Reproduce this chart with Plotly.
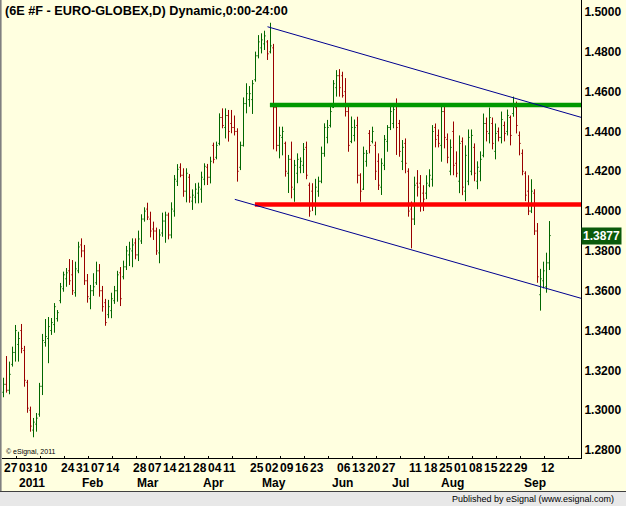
import pandas as pd
import plotly.graph_objects as go

# ---------------- data ----------------
holidays = ["2011-01-17", "2011-02-21", "2011-04-22", "2011-05-30", "2011-07-04", "2011-09-05"]
days = [d for d in pd.bdate_range("2010-12-27", "2011-09-15") if d.strftime("%Y-%m-%d") not in holidays]

highs = [
    1.3163, 1.3272, 1.3244, 1.3319, 1.3428, 1.3394, 1.3433, 1.3323, 1.3152, 1.3018,
    1.2961, 1.2986, 1.3137, 1.3383, 1.3458, 1.3468, 1.3463, 1.3538, 1.3503, 1.3639,
    1.3696, 1.3714, 1.3759, 1.3754, 1.3746, 1.3846, 1.3863, 1.3830, 1.3684, 1.3629,
    1.3688, 1.3746, 1.3734, 1.3624, 1.3559, 1.3554, 1.3590, 1.3624, 1.3700, 1.3719,
    1.3751, 1.3825, 1.3846, 1.3863, 1.3863, 1.3902, 1.3984, 1.4019, 1.4042, 1.3997,
    1.3947, 1.3917, 1.3909, 1.3992, 1.3997, 1.3992, 1.4044, 1.4181, 1.4236, 1.4240,
    1.4215, 1.4215, 1.4186, 1.4109, 1.4140, 1.4143, 1.4198, 1.4240, 1.4237, 1.4273,
    1.4344, 1.4349, 1.4491, 1.4516, 1.4516, 1.4508, 1.4508, 1.4480, 1.4416, 1.4349,
    1.4571, 1.4642, 1.4628, 1.4658, 1.4801, 1.4884, 1.4893, 1.4906, 1.4859, 1.4946,
    1.4840, 1.4540, 1.4424, 1.4424, 1.4349, 1.4282, 1.4349, 1.4257, 1.4290, 1.4270,
    1.4342, 1.4349, 1.4143, 1.4140, 1.4162, 1.4173, 1.4324, 1.4441, 1.4458, 1.4525,
    1.4658, 1.4708, 1.4713, 1.4700, 1.4668, 1.4533, 1.4475, 1.4460, 1.4474, 1.4190,
    1.4324, 1.4307, 1.4407, 1.4424, 1.4349, 1.4290, 1.4265, 1.4382, 1.4432, 1.4533,
    1.4541, 1.4566, 1.4458, 1.4357, 1.4365, 1.4215, 1.4048, 1.4173, 1.4206, 1.4181,
    1.4130, 1.4180, 1.4210, 1.4432, 1.4440, 1.4410, 1.4528, 1.4533, 1.4390, 1.4360,
    1.4450, 1.4300, 1.4380, 1.4370, 1.4330, 1.4410, 1.4410, 1.4340, 1.4250, 1.4300,
    1.4490, 1.4470, 1.4520, 1.4470, 1.4440, 1.4420, 1.4500, 1.4450, 1.4510, 1.4480,
    1.4575, 1.4550, 1.4400, 1.4310, 1.4200, 1.4180, 1.4160, 1.4110, 1.3940, 1.3710,
    1.3746, 1.3791, 1.3950]

lows = [
    1.3065, 1.3088, 1.3080, 1.3219, 1.3244, 1.3244, 1.3286, 1.3118, 1.2987, 1.2892,
    1.2864, 1.2892, 1.2967, 1.3076, 1.3319, 1.3236, 1.3378, 1.3389, 1.3445, 1.3537,
    1.3595, 1.3620, 1.3629, 1.3579, 1.3570, 1.3688, 1.3768, 1.3629, 1.3540, 1.3507,
    1.3574, 1.3629, 1.3570, 1.3495, 1.3424, 1.3462, 1.3462, 1.3534, 1.3545, 1.3523,
    1.3657, 1.3704, 1.3724, 1.3718, 1.3758, 1.3749, 1.3835, 1.3947, 1.3955, 1.3868,
    1.3855, 1.3780, 1.3738, 1.3871, 1.3841, 1.3858, 1.3863, 1.3972, 1.4126, 1.4170,
    1.4072, 1.4044, 1.4042, 1.4006, 1.4039, 1.4039, 1.4042, 1.4130, 1.4131, 1.4139,
    1.4240, 1.4260, 1.4330, 1.4416, 1.4365, 1.4349, 1.4391, 1.4380, 1.4148, 1.4206,
    1.4324, 1.4491, 1.4524, 1.4488, 1.4650, 1.4767, 1.4792, 1.4809, 1.4759, 1.4792,
    1.4310, 1.4300, 1.4265, 1.4280, 1.4173, 1.4091, 1.4064, 1.4047, 1.4140, 1.4190,
    1.4191, 1.4160, 1.3972, 1.4000, 1.3979, 1.4072, 1.4140, 1.4273, 1.4340, 1.4420,
    1.4518, 1.4575, 1.4575, 1.4570, 1.4475, 1.4298, 1.4341, 1.4350, 1.4139, 1.4047,
    1.4106, 1.4223, 1.4290, 1.4340, 1.4156, 1.4106, 1.4081, 1.4206, 1.4298, 1.4407,
    1.4416, 1.4282, 1.4273, 1.4206, 1.4190, 1.3972, 1.3813, 1.3930, 1.4073, 1.3997,
    1.4000, 1.4060, 1.4120, 1.4123, 1.4320, 1.4320, 1.4248, 1.4315, 1.4240, 1.4180,
    1.4180, 1.4170, 1.4090, 1.4080, 1.4050, 1.4130, 1.4180, 1.4150, 1.4110, 1.4150,
    1.4270, 1.4350, 1.4340, 1.4310, 1.4260, 1.4350, 1.4340, 1.4350, 1.4380, 1.4330,
    1.4474, 1.4390, 1.4280, 1.4180, 1.4050, 1.3980, 1.3990, 1.3880, 1.3640, 1.3500,
    1.3612, 1.3590, 1.3704]

opens = [
    1.3090, 1.3130, 1.3100, 1.3230, 1.3290, 1.3330, 1.3400, 1.3300, 1.3140, 1.3000,
    1.2900, 1.2930, 1.2980, 1.3120, 1.3340, 1.3360, 1.3400, 1.3430, 1.3460, 1.3550,
    1.3610, 1.3660, 1.3700, 1.3680, 1.3590, 1.3700, 1.3830, 1.3800, 1.3650, 1.3560,
    1.3600, 1.3640, 1.3700, 1.3600, 1.3540, 1.3480, 1.3500, 1.3550, 1.3600, 1.3690,
    1.3670, 1.3720, 1.3780, 1.3800, 1.3840, 1.3780, 1.3850, 1.3960, 1.4010, 1.3960,
    1.3910, 1.3900, 1.3790, 1.3890, 1.3950, 1.3980, 1.3880, 1.4000, 1.4150, 1.4220,
    1.4180, 1.4100, 1.4170, 1.4050, 1.4070, 1.4090, 1.4110, 1.4160, 1.4220, 1.4170,
    1.4330, 1.4270, 1.4340, 1.4470, 1.4420, 1.4480, 1.4440, 1.4420, 1.4400, 1.4220,
    1.4330, 1.4540, 1.4560, 1.4560, 1.4660, 1.4780, 1.4820, 1.4840, 1.4850, 1.4800,
    1.4820, 1.4520, 1.4330, 1.4370, 1.4340, 1.4190, 1.4260, 1.4110, 1.4190, 1.4220,
    1.4230, 1.4320, 1.4130, 1.4100, 1.4030, 1.4100, 1.4150, 1.4290, 1.4370, 1.4430,
    1.4520, 1.4620, 1.4680, 1.4680, 1.4600, 1.4500, 1.4350, 1.4380, 1.4430, 1.4180,
    1.4110, 1.4250, 1.4390, 1.4350, 1.4330, 1.4250, 1.4120, 1.4230, 1.4350, 1.4420,
    1.4440, 1.4530, 1.4440, 1.4250, 1.4340, 1.4200, 1.4010, 1.3960, 1.4140, 1.4140,
    1.4090, 1.4090, 1.4130, 1.4160, 1.4420, 1.4380, 1.4330, 1.4500, 1.4360, 1.4200,
    1.4400, 1.4240, 1.4150, 1.4350, 1.4100, 1.4150, 1.4200, 1.4320, 1.4150, 1.4200,
    1.4280, 1.4440, 1.4390, 1.4440, 1.4300, 1.4400, 1.4370, 1.4430, 1.4400, 1.4470,
    1.4490, 1.4520, 1.4380, 1.4290, 1.4190, 1.4100, 1.4000, 1.4090, 1.3900, 1.3580,
    1.3650, 1.3620, 1.3740]

closes = [
    1.3130, 1.3100, 1.3180, 1.3290, 1.3400, 1.3360, 1.3310, 1.3150, 1.3010, 1.2920,
    1.2940, 1.2960, 1.3120, 1.3350, 1.3370, 1.3420, 1.3440, 1.3520, 1.3490, 1.3620,
    1.3680, 1.3690, 1.3650, 1.3600, 1.3710, 1.3820, 1.3800, 1.3650, 1.3570, 1.3600,
    1.3620, 1.3700, 1.3600, 1.3520, 1.3440, 1.3520, 1.3560, 1.3600, 1.3680, 1.3560,
    1.3720, 1.3800, 1.3810, 1.3830, 1.3780, 1.3860, 1.3960, 1.4000, 1.3970, 1.3900,
    1.3900, 1.3800, 1.3880, 1.3950, 1.3980, 1.3880, 1.4010, 1.4160, 1.4210, 1.4180,
    1.4100, 1.4190, 1.4070, 1.4080, 1.4110, 1.4120, 1.4170, 1.4225, 1.4170, 1.4250,
    1.4260, 1.4330, 1.4470, 1.4430, 1.4480, 1.4400, 1.4420, 1.4400, 1.4200, 1.4330,
    1.4540, 1.4590, 1.4590, 1.4640, 1.4780, 1.4850, 1.4860, 1.4880, 1.4790, 1.4830,
    1.4520, 1.4330, 1.4380, 1.4400, 1.4200, 1.4260, 1.4120, 1.4230, 1.4260, 1.4250,
    1.4310, 1.4180, 1.4000, 1.4030, 1.4120, 1.4150, 1.4290, 1.4420, 1.4420, 1.4500,
    1.4640, 1.4680, 1.4620, 1.4580, 1.4500, 1.4330, 1.4420, 1.4420, 1.4180, 1.4100,
    1.4290, 1.4290, 1.4330, 1.4400, 1.4200, 1.4130, 1.4240, 1.4360, 1.4420, 1.4500,
    1.4510, 1.4420, 1.4300, 1.4320, 1.4240, 1.4000, 1.3960, 1.4130, 1.4120, 1.4030,
    1.4060, 1.4140, 1.4180, 1.4400, 1.4360, 1.4340, 1.4500, 1.4370, 1.4270, 1.4320,
    1.4230, 1.4190, 1.4340, 1.4120, 1.4280, 1.4370, 1.4380, 1.4190, 1.4220, 1.4260,
    1.4440, 1.4400, 1.4470, 1.4340, 1.4390, 1.4370, 1.4460, 1.4390, 1.4480, 1.4380,
    1.4540, 1.4430, 1.4340, 1.4200, 1.4080, 1.4000, 1.4100, 1.3900, 1.3670, 1.3660,
    1.3700, 1.3740, 1.3877]

# drawn studies (bar index, price)
upper_trend_x = [88.0, 192.5]
upper_trend_y = [1.4926, 1.4471]
lower_trend_x = [77.1, 192.5]
lower_trend_y = [1.4059, 1.3562]
green_level_x = [88.8, 192.5]
green_level_y = [1.4533, 1.4533]
red_level_x = [83.8, 192.5]
red_level_y = [1.4033, 1.4033]

week_label_dates = ["2010-12-27", "2011-01-03", "2011-01-10", "2011-01-24", "2011-01-31",
                    "2011-02-07", "2011-02-14", "2011-02-28", "2011-03-07", "2011-03-14",
                    "2011-03-21", "2011-03-28", "2011-04-04", "2011-04-11", "2011-04-25",
                    "2011-05-02", "2011-05-09", "2011-05-16", "2011-05-23", "2011-06-06",
                    "2011-06-13", "2011-06-20", "2011-06-27", "2011-07-11", "2011-07-18",
                    "2011-07-25", "2011-08-01", "2011-08-08", "2011-08-15", "2011-08-22",
                    "2011-08-29", "2011-09-12"]
month_labels = ["2011", "Feb", "Mar", "Apr", "May", "Jun", "Jul", "Aug", "Sep"]
month_label_pos = [9.4, 29.8, 48.1, 70.1, 90.1, 113.1, 132.4, 149.8, 177.1]

y_ticks = [1.28, 1.30, 1.32, 1.34, 1.36, 1.38, 1.40, 1.42, 1.44, 1.46, 1.48, 1.50]
last_price = 1.3877
title_text = "(6E #F - EURO-GLOBEX,D) Dynamic,0:00-24:00"

assert len(days) == len(highs) == len(lows) == len(opens) == len(closes) == 183

# ---------------- figure ----------------
idx = list(range(len(days)))
day_strs = [d.strftime("%Y-%m-%d") for d in days]

BG = "#FFFFE0"
UP = "#006600"
DN = "#990000"
BLUE = "#000090"
FONT = "Liberation Sans, Arial, sans-serif"

fig = go.Figure()
fig.add_trace(go.Ohlc(
    x=idx, open=opens, high=highs, low=lows, close=closes,
    increasing=dict(line=dict(color=UP, width=1)),
    decreasing=dict(line=dict(color=DN, width=1)),
    tickwidth=0.4, hoverinfo="skip", showlegend=False))

fig.add_trace(go.Scatter(x=green_level_x, y=green_level_y, mode="lines",
                         line=dict(color="#009900", width=4.5), showlegend=False, hoverinfo="skip"))
fig.add_trace(go.Scatter(x=red_level_x, y=red_level_y, mode="lines",
                         line=dict(color="#FF0000", width=4.5), showlegend=False, hoverinfo="skip"))
fig.add_trace(go.Scatter(x=upper_trend_x, y=upper_trend_y, mode="lines",
                         line=dict(color=BLUE, width=1), showlegend=False, hoverinfo="skip"))
fig.add_trace(go.Scatter(x=lower_trend_x, y=lower_trend_y, mode="lines",
                         line=dict(color=BLUE, width=1), showlegend=False, hoverinfo="skip"))

W, H = 626, 506
ML, MR, MT, MB = 2, 45, 0, 48
PW, PH = W - ML - MR, H - MT - MB


def py(ypix):
    return (PH + MT - ypix) / PH


def px(xpix):
    return (xpix - ML) / PW


annotations = []
annotations.append(dict(text=title_text, x=px(2.5), xanchor="left", y=py(10.5), yanchor="middle",
                        xref="paper", yref="paper", showarrow=False,
                        font=dict(family=FONT, size=12.7, color="black", weight="bold")))
annotations.append(dict(text="\u00a9 eSignal, 2011", x=px(3.5), xanchor="left", y=py(451.5), yanchor="middle",
                        xref="paper", yref="paper", showarrow=False,
                        font=dict(family=FONT, size=7, color="black")))
for d in week_label_dates:
    i = day_strs.index(d)
    annotations.append(dict(text=d[-2:], x=i, xanchor="left", xshift=-2, y=py(468), yanchor="middle",
                            xref="x", yref="paper", showarrow=False,
                            font=dict(family=FONT, size=12, color="black", weight="bold")))
for lab, pos in zip(month_labels, month_label_pos):
    annotations.append(dict(text=lab, x=pos, xanchor="center", y=py(482.5), yanchor="middle",
                            xref="x", yref="paper", showarrow=False,
                            font=dict(family=FONT, size=12, color="black", weight="bold")))
annotations.append(dict(text="1.3877", x=1, xanchor="left", xshift=0, y=last_price, yanchor="middle",
                        xref="paper", yref="y", showarrow=False, bgcolor="#0B5A0B", borderpad=1,
                        font=dict(family=FONT, size=12, color="white", weight="bold")))
annotations.append(dict(text="Published by eSignal (www.esignal.com)", x=px(616), xanchor="right",
                        y=py(499), yanchor="middle", xref="paper", yref="paper", showarrow=False,
                        font=dict(family=FONT, size=9, color="black")))

shapes = [
    # status bar
    dict(type="rect", xref="paper", yref="paper", x0=px(-1), x1=px(W + 1), y0=py(491.5), y1=py(H + 1),
         fillcolor="#E8E8E8", line=dict(width=0), layer="below"),
    dict(type="line", xref="paper", yref="paper", x0=px(-1), x1=px(W + 1), y0=py(491.5), y1=py(491.5),
         line=dict(color="#404040", width=1.2)),
    # left window border
    dict(type="line", xref="paper", yref="paper", x0=px(0.8), x1=px(0.8), y0=py(-1), y1=py(491),
         line=dict(color="#808080", width=1.6)),
]

fig.update_layout(
    width=W, height=H, autosize=False,
    margin=dict(l=ML, r=MR, t=MT, b=MB, pad=0),
    paper_bgcolor=BG, plot_bgcolor=BG,
    showlegend=False,
    annotations=annotations, shapes=shapes,
    xaxis=dict(range=[-0.5, 192.5], showgrid=False, zeroline=False, showticklabels=False,
               showline=True, linecolor="black", linewidth=1,
               ticks="inside", ticklen=2, tickcolor="black", tick0=4.4, dtick=8,
               rangeslider=dict(visible=False), fixedrange=True),
    yaxis=dict(range=[1.27598, 1.50603], side="right", showgrid=False, zeroline=False,
               showline=True, linecolor="black", linewidth=1, ticks="",
               tickvals=y_ticks, ticktext=[f"{v:.4f}" for v in y_ticks],
               tickfont=dict(family=FONT, size=12, color="black", weight="bold"),
               fixedrange=True),
)

fig.write_html("out.html")
